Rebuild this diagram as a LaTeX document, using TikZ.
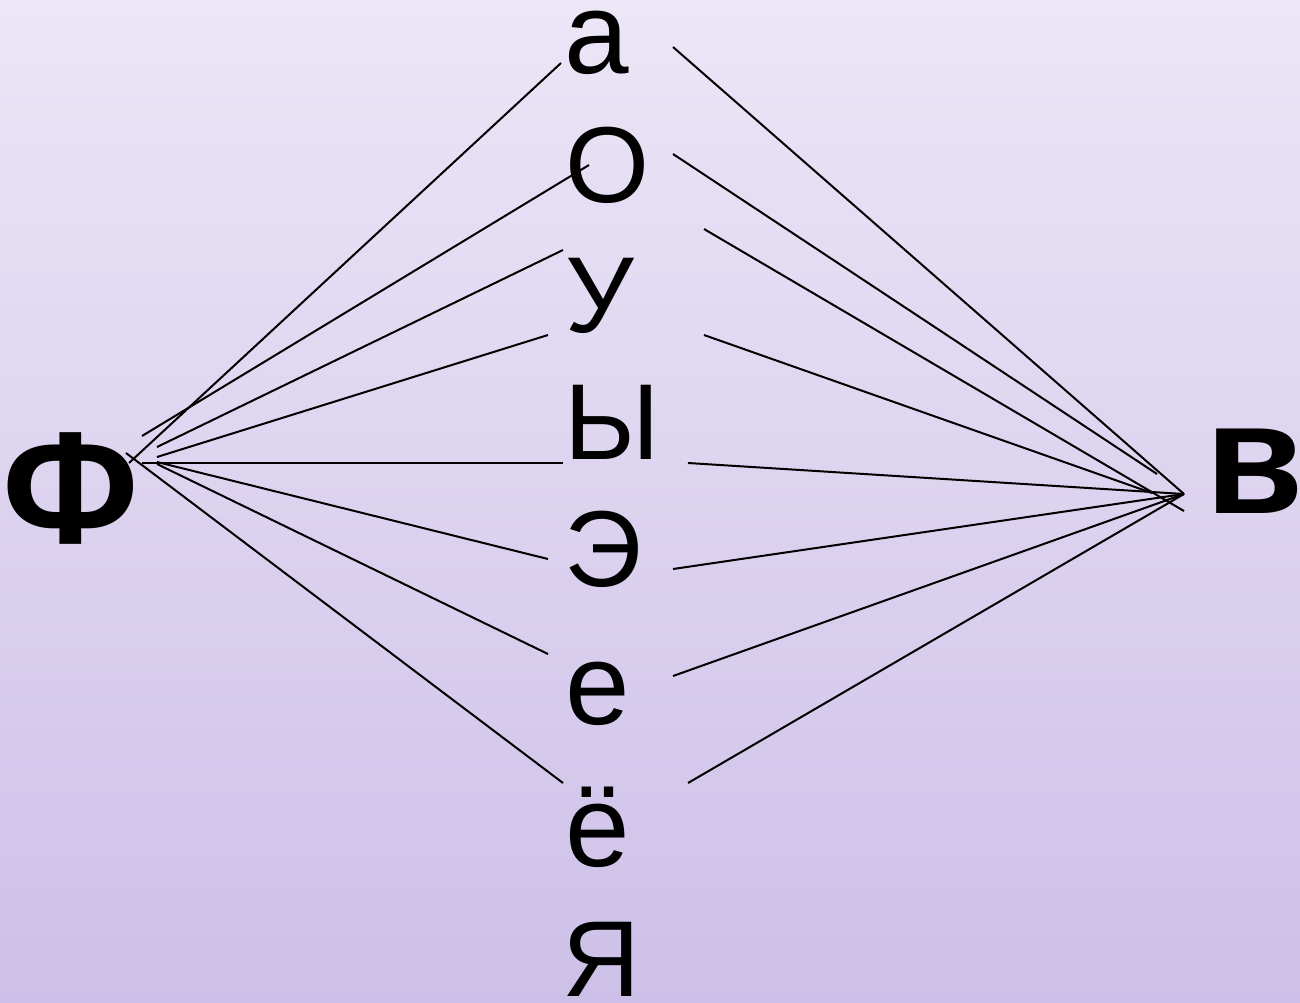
\documentclass[tikz,border=0pt]{standalone}
\usepackage{fontspec}
\setmainfont{Liberation Sans}
\definecolor{bgtop}{RGB}{236,230,247}
\definecolor{bgbottom}{RGB}{205,192,232}

\begin{document}
\begin{tikzpicture}[
    x=0.5pt, y=-0.5pt,
    lower/.style={font=\fontsize{58}{60}\selectfont, inner sep=0pt, anchor=base},
    upper/.style={font=\fontsize{54}{56}\selectfont, inner sep=0pt, anchor=base},
    sound/.style={font=\fontsize{80}{84}\selectfont\bfseries, inner sep=0pt, anchor=base},
    link/.style={line width=1pt, black}
]
    \shade[top color=bgtop, bottom color=bgbottom] (0,0) rectangle (1300,1002);
    \useasboundingbox (0,0) rectangle (1300,1002);

    % vowels in one column
    \node[lower] (va) at (597,73) {а};
    \node[upper] (vo) at (607,202) {О};
    \node[upper] (vu) at (600,332) {У};
    \node[upper] (vy) at (612,459) {Ы};
    \node[upper] (ve) at (603,586) {Э};
    \node[lower] (vje) at (598,724) {е};
    \node[lower] (vjo) at (598,866) {ё};
    \node[upper] (vja) at (601,996) {Я};

    % the two sounds
    \node[sound] (f) at (71,543) {Ф};
    \node[sound] (v) at (1255,513) {в};

    % lines from the left
    \foreach \n/\sx/\sy/\ex/\ey in {a/129/463/561/63, o/142/436/589/165,
        u/157/447/563/250, yu/157/457/548/335, y/142/463/563/463,
        e/157/462/548/559, je/157/464/548/654, jo/126/453/563/783} {
        \coordinate (l\n s) at (\sx,\sy);
        \coordinate (l\n e) at (\ex,\ey);
        \draw[link] (l\n s) -- (l\n e);
    }

    % lines to the right
    \foreach \n/\sx/\sy/\ex/\ey in {a/673/47/1184/494, o/673/154/1157/474,
        u/704/229/1184/511, yu/704/335/1152/493, y/688/463/1184/494,
        e/673/569/1184/494, je/673/676/1184/494, jo/688/783/1184/494} {
        \coordinate (r\n s) at (\sx,\sy);
        \coordinate (r\n e) at (\ex,\ey);
        \draw[link] (r\n s) -- (r\n e);
    }
\end{tikzpicture}
\end{document}
